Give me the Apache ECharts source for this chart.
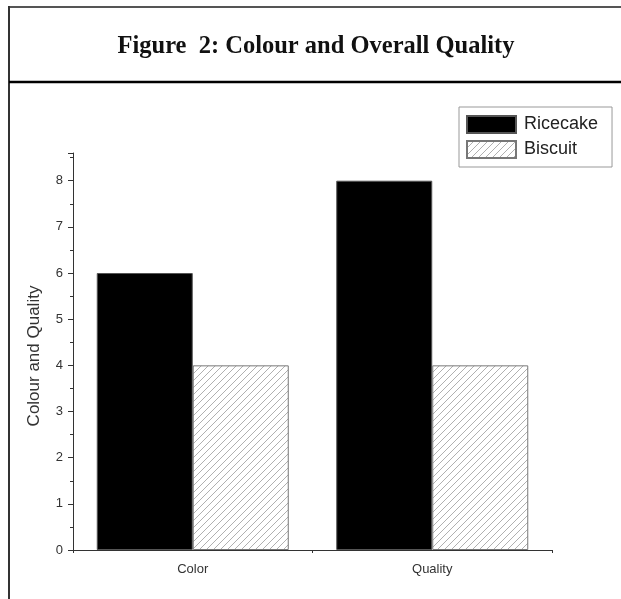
<!DOCTYPE html>
<html>
<head>
<meta charset="utf-8">
<script src="https://cdn.jsdelivr.net/npm/echarts@6/dist/echarts.min.js"></script>
<style>
html,body{margin:0;padding:0;background:#fff;}
#chart{width:621px;height:599px;}
</style>
</head>
<body>
<div id="chart"></div>
<script>
var titleText = 'Figure  2: Colour and Overall Quality';
var categories = ['Color', 'Quality'];
var seriesNames = ['Ricecake', 'Biscuit'];
var ricecake = [6, 8];
var biscuit = [4, 4];
var yAxisName = 'Colour and Quality';

function makeHatch() {
  var c = document.createElement('canvas');
  var s = 7;
  c.width = s; c.height = s;
  var ctx = c.getContext('2d');
  ctx.fillStyle = '#ffffff';
  ctx.fillRect(0, 0, s, s);
  ctx.strokeStyle = '#b0b0b0';
  ctx.lineWidth = 1;
  ctx.beginPath();
  ctx.moveTo(0, s); ctx.lineTo(s, 0);
  ctx.moveTo(-1, 1); ctx.lineTo(1, -1);
  ctx.moveTo(s - 1, s + 1); ctx.lineTo(s + 1, s - 1);
  ctx.stroke();
  return c;
}
var hatch = { image: makeHatch(), repeat: 'repeat' };
var sans = '"Liberation Sans", Arial, sans-serif';

var chart = echarts.init(document.getElementById('chart'));
var option = {
  backgroundColor: '#ffffff',
  animation: false,
  graphic: [
    { type: 'line', shape: { x1: 9, y1: 7, x2: 621, y2: 7 }, style: { stroke: '#555', lineWidth: 2 } },
    { type: 'line', shape: { x1: 9, y1: 6, x2: 9, y2: 599 }, style: { stroke: '#333', lineWidth: 2 } },
    { type: 'line', shape: { x1: 9, y1: 82, x2: 621, y2: 82 }, style: { stroke: '#000', lineWidth: 2.5 } },
    { type: 'text', x: 316, y: 47, style: { text: titleText, font: 'bold 24.5px "Liberation Serif", "Times New Roman", serif', fill: '#111', textAlign: 'center', textVerticalAlign: 'middle' } },
    { type: 'text', x: 34, y: 356, rotation: Math.PI / 2, style: { text: yAxisName, font: '17px ' + sans, fill: '#333', textAlign: 'center', textVerticalAlign: 'middle' } }
  ],
  legend: {
    orient: 'vertical',
    left: 459,
    top: 107,
    padding: [8, 14, 8, 7],
    itemWidth: 49,
    itemHeight: 17,
    itemGap: 6,
    borderColor: '#999',
    borderWidth: 1,
    backgroundColor: '#fff',
    icon: 'rect',
    textStyle: { fontFamily: sans, fontSize: 18, color: '#222', padding: [0, 0, 0, 3] },
    data: seriesNames
  },
  grid: { left: 73, right: 69, top: 153, bottom: 49, containLabel: false },
  xAxis: [
    {
      type: 'category',
      data: categories,
      axisLine: { lineStyle: { color: '#333', width: 1 } },
      axisTick: { alignWithLabel: true, length: 5, lineStyle: { color: '#333' } },
      axisLabel: { margin: 13, fontSize: 13, color: '#333', fontFamily: sans }
    },
    {
      type: 'category',
      data: categories,
      position: 'bottom',
      axisLine: { show: false },
      axisTick: { show: true, length: 3, lineStyle: { color: '#333' } },
      axisLabel: { show: false }
    }
  ],
  yAxis: {
    type: 'value',
    min: 0,
    max: 8.6,
    interval: 1,
    axisLine: { show: true, lineStyle: { color: '#333', width: 1 } },
    axisTick: { show: true, length: 5, lineStyle: { color: '#333' } },
    minorTick: { show: true, splitNumber: 2, length: 3, lineStyle: { color: '#333' } },
    splitLine: { show: false },
    axisLabel: { margin: 10, fontSize: 13, color: '#333', fontFamily: sans, showMaxLabel: false }
  },
  series: [
    {
      name: seriesNames[0],
      type: 'bar',
      data: ricecake,
      barWidth: 96,
      barGap: '0%',
      itemStyle: { color: '#000', borderColor: '#555', borderWidth: 1 }
    },
    {
      name: seriesNames[1],
      type: 'bar',
      data: biscuit,
      barWidth: 96,
      barGap: '0%',
      itemStyle: { color: hatch, borderColor: '#777', borderWidth: 1 }
    }
  ]
};
chart.setOption(option);
</script>
</body>
</html>
